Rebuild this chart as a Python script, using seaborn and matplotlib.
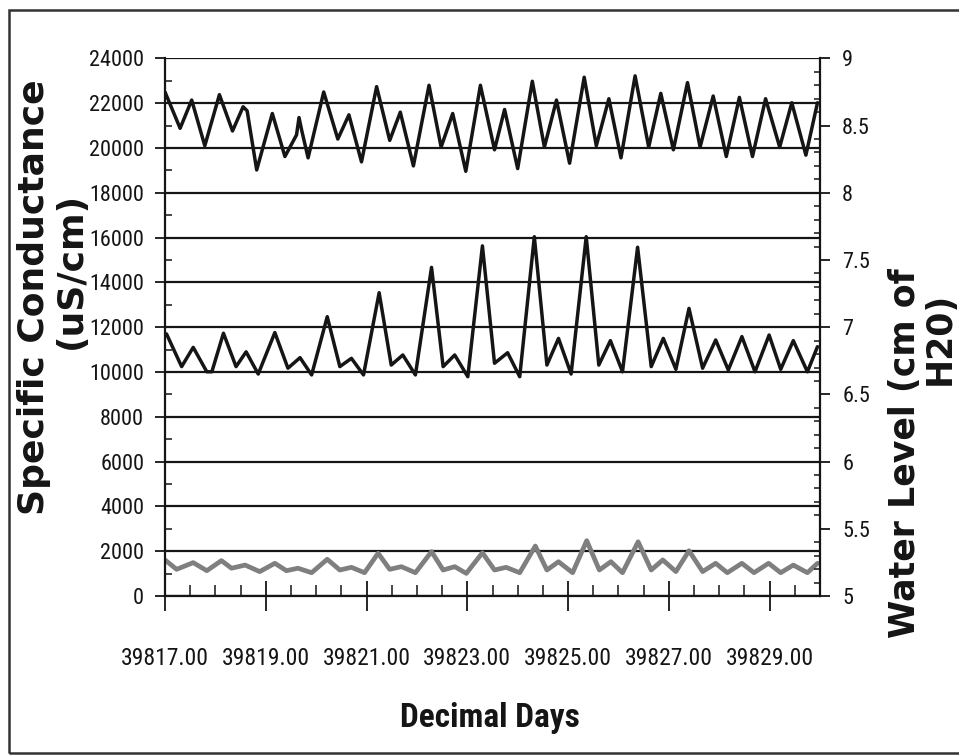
import matplotlib
matplotlib.use("Agg")
import matplotlib.pyplot as plt
import seaborn as sns
import pandas as pd
from matplotlib import font_manager
from matplotlib.ticker import MultipleLocator
from matplotlib.patches import Rectangle

# ---------------- data ----------------
water_days = [39817.00, 39817.30, 39817.53, 39817.79, 39818.08, 39818.34, 39818.55, 39818.63,
              39818.82, 39819.13, 39819.38, 39819.61, 39819.66, 39819.71, 39819.84, 39820.15,
              39820.43, 39820.65, 39820.90, 39821.20, 39821.46, 39821.67, 39821.93, 39822.24,
              39822.48, 39822.71, 39822.97, 39823.26, 39823.54, 39823.74, 39824.00, 39824.29,
              39824.53, 39824.77, 39825.03, 39825.32, 39825.56, 39825.81, 39826.05, 39826.33,
              39826.60, 39826.84, 39827.09, 39827.37, 39827.62, 39827.88, 39828.14, 39828.40,
              39828.66, 39828.92, 39829.20, 39829.44, 39829.72, 39829.95]
water_level = [8.75, 8.48, 8.69, 8.35, 8.73, 8.46, 8.64, 8.61, 8.17, 8.59, 8.27, 8.43, 8.56, 8.47,
               8.26, 8.75, 8.40, 8.58, 8.23, 8.79, 8.39, 8.60, 8.20, 8.80, 8.34, 8.59, 8.16, 8.80,
               8.32, 8.62, 8.18, 8.83, 8.34, 8.69, 8.22, 8.86, 8.35, 8.70, 8.26, 8.87, 8.34, 8.74,
               8.32, 8.82, 8.34, 8.72, 8.27, 8.71, 8.27, 8.70, 8.34, 8.67, 8.28, 8.67]

sc_high_days = [39817.03, 39817.33, 39817.56, 39817.83, 39817.93, 39818.16, 39818.41, 39818.61,
                39818.85, 39819.18, 39819.44, 39819.68, 39819.91, 39820.22, 39820.47, 39820.70,
                39820.94, 39821.25, 39821.49, 39821.72, 39821.97, 39822.29, 39822.52, 39822.75,
                39823.01, 39823.30, 39823.54, 39823.80, 39824.04, 39824.33, 39824.58, 39824.81,
                39825.06, 39825.36, 39825.61, 39825.84, 39826.08, 39826.38, 39826.65, 39826.89,
                39827.14, 39827.40, 39827.67, 39827.93, 39828.18, 39828.45, 39828.71, 39828.99,
                39829.22, 39829.47, 39829.75, 39829.95]
sc_high = [11700, 10240, 11100, 10010, 10010, 11730, 10240, 10900, 9910, 11760, 10170, 10640,
           9870, 12470, 10240, 10610, 9870, 13540, 10310, 10760, 9870, 14670, 10240, 10760,
           9790, 15630, 10390, 10860, 9790, 16040, 10310, 11500, 9910, 16040, 10310, 11400,
           10010, 15570, 10240, 11500, 10120, 12840, 10170, 11430, 10090, 11580, 10010, 11650,
           10120, 11400, 10010, 11130]

sc_low_days = [39817.00, 39817.23, 39817.56, 39817.83, 39818.12, 39818.32, 39818.59, 39818.88,
               39819.18, 39819.41, 39819.64, 39819.91, 39820.22, 39820.47, 39820.70, 39820.96,
               39821.23, 39821.46, 39821.69, 39821.97, 39822.29, 39822.52, 39822.75, 39822.98,
               39823.30, 39823.54, 39823.77, 39824.04, 39824.35, 39824.58, 39824.81, 39825.09,
               39825.37, 39825.62, 39825.85, 39826.08, 39826.39, 39826.65, 39826.88, 39827.14,
               39827.40, 39827.67, 39827.93, 39828.16, 39828.45, 39828.69, 39828.98, 39829.22,
               39829.47, 39829.75, 39829.95]
sc_low = [1610, 1190, 1490, 1130, 1580, 1240, 1380, 1090, 1460, 1130, 1240, 1040, 1640, 1160,
          1280, 1040, 1910, 1190, 1310, 1040, 1980, 1160, 1310, 1010, 1930, 1160, 1280, 1040,
          2230, 1160, 1530, 1040, 2470, 1160, 1530, 1040, 2420, 1160, 1610, 1090, 2020, 1090,
          1460, 1040, 1460, 1040, 1460, 1040, 1380, 1040, 1460]

x_ticks = [39817, 39819, 39821, 39823, 39825, 39827, 39829]
x_tick_labels = ["39817.00", "39819.00", "39821.00", "39823.00", "39825.00", "39827.00", "39829.00"]
left_ticks = [0, 2000, 4000, 6000, 8000, 10000, 12000, 14000, 16000, 18000, 20000, 22000, 24000]
left_tick_labels = ["0", "2000", "4000", "6000", "8000", "10000", "12000", "14000", "16000",
                    "18000", "20000", "22000", "24000"]
right_ticks = [5, 5.5, 6, 6.5, 7, 7.5, 8, 8.5, 9]
right_tick_labels = ["5", "5.5", "6", "6.5", "7", "7.5", "8", "8.5", "9"]

# ---------------- style ----------------
sns.set_theme(style="white")
available = {f.name for f in font_manager.fontManager.ttflist}
tick_font, ytick_size, xtick_size, xl_size = "Liberation Sans", 14, 15, 20
for cand, ys, xs, ls in [("Liberation Sans Narrow", 16, 17, 25), ("Roboto Condensed", 16, 17, 24)]:
    if cand in available:
        tick_font, ytick_size, xtick_size, xl_size = cand, ys, xs, ls
        break
narrow = [tick_font, "DejaVu Sans"]
plt.rcParams["font.family"] = narrow
ink = "#151515"

W, H = 959, 756
fig = plt.figure(figsize=(W / 100, H / 100), dpi=100)
x0, x1, ytop, ybot = 165, 820, 58.4, 596
ax = fig.add_axes([x0 / W, 1 - ybot / H, (x1 - x0) / W, (ybot - ytop) / H])
ax2 = ax.twinx()

df_high = pd.DataFrame({"day": sc_high_days, "sc": sc_high})
df_low = pd.DataFrame({"day": sc_low_days, "sc": sc_low})
df_wl = pd.DataFrame({"day": water_days, "wl": water_level})

sns.lineplot(data=df_low, x="day", y="sc", ax=ax, color="#7f7f7f", lw=3.4,
             estimator=None, sort=False, solid_joinstyle="round", solid_capstyle="round")
sns.lineplot(data=df_high, x="day", y="sc", ax=ax, color=ink, lw=2.5,
             estimator=None, sort=False, solid_joinstyle="round", solid_capstyle="round")
sns.lineplot(data=df_wl, x="day", y="wl", ax=ax2, color=ink, lw=2.5,
             estimator=None, sort=False, solid_joinstyle="round", solid_capstyle="round")

ax.set_xlim(39817, 39830)
ax.set_ylim(0, 24000)
ax2.set_ylim(5, 9)

ax.set_xticks(x_ticks)
ax.set_xticklabels(x_tick_labels)
ax.xaxis.set_minor_locator(MultipleLocator(0.5))
ax.set_yticks(left_ticks)
ax.set_yticklabels(left_tick_labels)
ax.yaxis.set_minor_locator(MultipleLocator(1000))
ax2.set_yticks(right_ticks)
ax2.set_yticklabels(right_tick_labels)
ax2.yaxis.set_minor_locator(MultipleLocator(0.1))

ax.grid(False)
ax2.grid(False)
ax.yaxis.grid(True, which="major", color=ink, lw=1.6)
ax.set_axisbelow(True)

ax.tick_params(axis="y", which="major", direction="out", length=7, width=1.3,
               color=ink, labelsize=ytick_size, labelcolor=ink, pad=8, left=True)
ax.tick_params(axis="y", which="minor", direction="in", length=5, width=1.1,
               color=ink, left=True)
ax.tick_params(axis="x", which="major", direction="inout", length=22, width=1.3,
               color=ink, labelsize=xtick_size, labelcolor=ink, pad=26, bottom=True)
ax.tick_params(axis="x", which="minor", direction="in", length=8, width=1.1,
               color=ink, bottom=True)
ax2.tick_params(axis="y", which="major", direction="out", length=7, width=1.3,
                color=ink, labelsize=ytick_size, labelcolor=ink, pad=9, right=True)
ax2.tick_params(axis="y", which="minor", direction="in", length=4, width=1.1,
                color=ink, right=True)

for a in (ax, ax2):
    a.set_xlabel("")
    a.set_ylabel("")
    a.spines["top"].set_visible(False)
    for s in ("left", "right", "bottom"):
        a.spines[s].set_color(ink)
        a.spines[s].set_linewidth(1.6)
ax.spines["right"].set_visible(False)
ax2.spines["left"].set_visible(False)
ax2.spines["bottom"].set_visible(False)

# axis titles
bold_wide = ["DejaVu Sans"]
fig.text(34 / W, 1 - 297 / H, "Specific Conductance", rotation=90, ha="center", va="center",
         fontsize=26, fontweight="bold", family=bold_wide, color=ink)
fig.text(71 / W, 1 - 270 / H, "(uS/cm)", rotation=90, ha="center", va="center",
         fontsize=26, fontweight="bold", family=bold_wide, color=ink)
fig.text(905 / W, 1 - 453 / H, "Water Level (cm of", rotation=90, ha="center", va="center",
         fontsize=25, fontweight="bold", family=bold_wide, color=ink)
fig.text(940 / W, 1 - 338 / H, "H20)", rotation=90, ha="center", va="center",
         fontsize=25, fontweight="bold", family=bold_wide, color=ink)
fig.text(490 / W, 1 - 718 / H, "Decimal Days", ha="center", va="center",
         fontsize=xl_size, fontweight="bold", family=narrow, color=ink)

# outer frame
fig.add_artist(Rectangle((9 / W, 3 / H), 1.02, (753 - 10) / H, transform=fig.transFigure,
                         fill=False, lw=1.8, ec="#333333"))

fig.savefig("out.png", dpi=100, facecolor="white")
